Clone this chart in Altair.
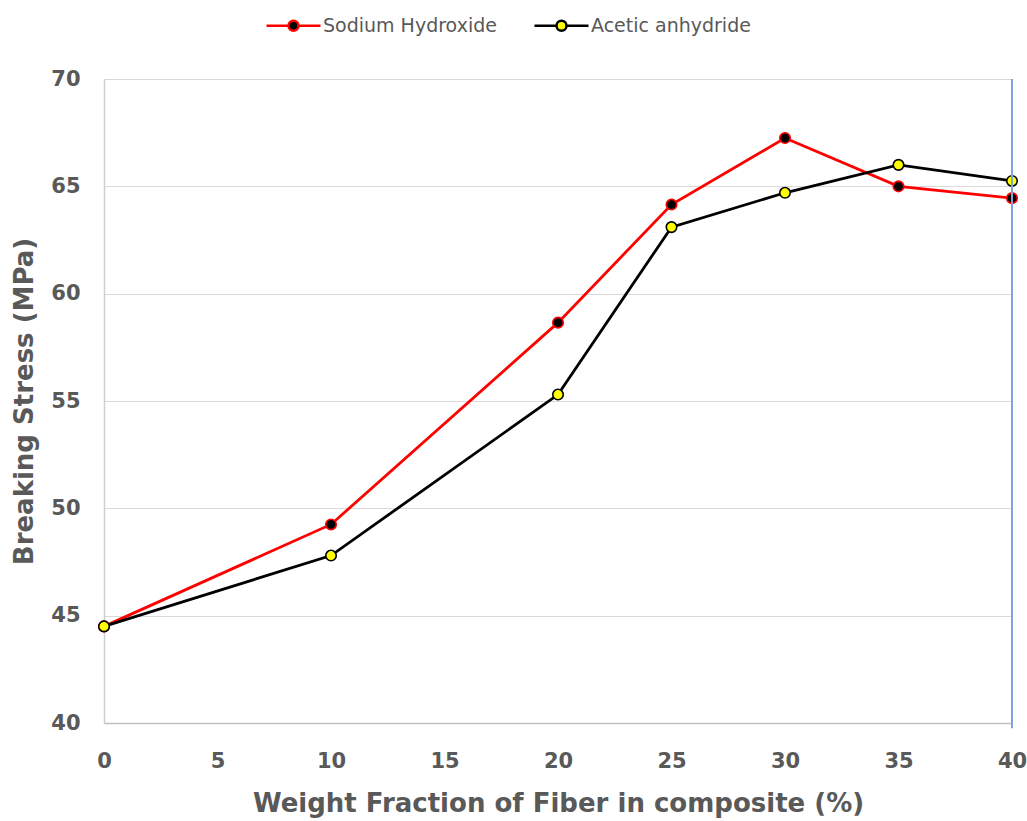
import altair as alt
import pandas as pd

fraction = [0, 10, 20, 25, 30, 35, 40]
sodium_hydroxide = [44.5, 49.25, 58.65, 64.15, 67.25, 65.0, 64.45]
acetic_anhydride = [44.5, 47.8, 55.3, 63.1, 64.7, 66.0, 65.25]
series_names = ["Sodium Hydroxide", "Acetic anhydride"]
x_ticks = [0, 5, 10, 15, 20, 25, 30, 35, 40]
y_ticks = [40, 45, 50, 55, 60, 65, 70]

rows = []
for name, vals in zip(series_names, [sodium_hydroxide, acetic_anhydride]):
    for f, v in zip(fraction, vals):
        rows.append({"fraction": f, "stress": v, "series": name})
df = pd.DataFrame(rows)

marker_df = pd.DataFrame({"x": [40], "y": [70], "y2": [39.75]})

TEXT = "#595959"
stroke_scale = alt.Scale(domain=series_names, range=["#ff0000", "#000000"])
fill_scale = alt.Scale(domain=series_names, range=["#000000", "#ffff00"])

sym = ("M -5.4 0 L -1 0 M 1 0 L 5.4 0 "
       "M 1 0 A 1 1 0 1 1 -1 0 A 1 1 0 1 1 1 0 Z")
legend = alt.Legend(
    title=None, orient="none", direction="horizontal",
    legendX=180, legendY=-63,
    symbolType=sym, symbolSize=100, symbolStrokeWidth=2.5,
    labelFont="DejaVu Sans", labelFontSize=19, labelColor=TEXT, labelLimit=400,
    labelOffset=20, columnPadding=32,
)

x_enc = alt.X("fraction:Q", scale=alt.Scale(domain=[0, 40], nice=False),
              axis=alt.Axis(values=x_ticks, title="Weight Fraction of Fiber in composite (%)",
                            grid=False, ticks=False, domainColor="#bfbfbf", domainWidth=1.5,
                            labelFont="DejaVu Sans", labelFontWeight="bold", labelFontSize=21,
                            labelColor=TEXT, labelPadding=27, labelFlush=False,
                            titleFont="DejaVu Sans", titleFontWeight="bold", titleFontSize=26,
                            titleColor=TEXT, titlePadding=19))
y_enc = alt.Y("stress:Q", scale=alt.Scale(domain=[40, 70], nice=False),
              axis=alt.Axis(values=y_ticks, title="Breaking Stress (MPa)",
                            grid=True, gridColor="#d9d9d9", gridWidth=1.2, ticks=False,
                            domainColor="#d0d0d0", domainWidth=1.5,
                            labelFont="DejaVu Sans", labelFontWeight="bold", labelFontSize=21,
                            labelColor=TEXT, labelPadding=24,
                            titleFont="DejaVu Sans", titleFontWeight="bold", titleFontSize=26,
                            titleColor=TEXT, titlePadding=13))

lines = alt.Chart(df).mark_line(strokeWidth=2.8).encode(
    x=x_enc, y=y_enc,
    stroke=alt.Stroke("series:N", scale=stroke_scale, legend=legend, sort=series_names),
    detail="series:N",
)
points = alt.Chart(df).mark_point(filled=False, size=110, strokeWidth=1.6, opacity=1, shape="circle").encode(
    x="fraction:Q", y="stress:Q",
    stroke=alt.Stroke("series:N", scale=stroke_scale, legend=legend, sort=series_names),
    fill=alt.Fill("series:N", scale=fill_scale, legend=legend, sort=series_names),
)
blue = alt.Chart(marker_df).mark_rule(color="#7fa3dc", strokeWidth=2, clip=False).encode(
    x="x:Q", y="y:Q", y2="y2:Q"
)

chart = alt.layer(lines, points, blue).properties(
    width=908, height=644,
    autosize=alt.AutoSizeParams(type="none"),
    padding={"left": 104, "top": 79, "right": 15, "bottom": 98},
).configure_view(stroke=None).configure(background="white")

chart.save("out.html", embed_options={"renderer": "svg", "actions": False})
